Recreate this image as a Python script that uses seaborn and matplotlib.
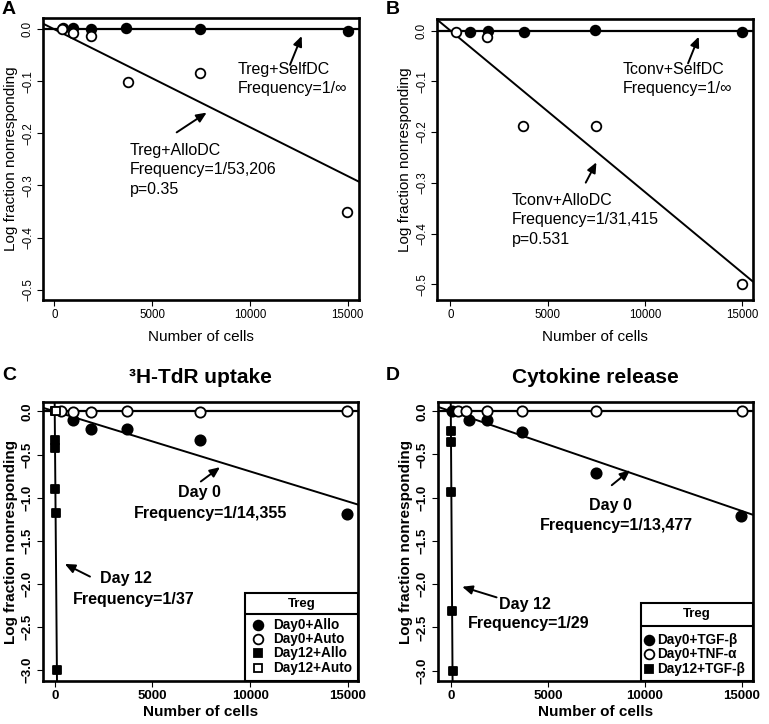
import numpy as np
import pandas as pd
import matplotlib
matplotlib.use("Agg")
import matplotlib.pyplot as plt
from matplotlib.patches import Rectangle
import seaborn as sns

# ---------------- data ----------------
# Panel A
A_self_x = [430, 970, 1900, 3670, 7450, 15000]
A_self_y = [0.002, 0.002, 0.0, 0.003, 0.0, -0.004]
A_allo_x = [375, 970, 1900, 3750, 7450, 14950]
A_allo_y = [0.0, -0.008, -0.013, -0.1005, -0.083, -0.351]
A_allo_freq = 53206

# Panel B
B_self_x = [990, 1930, 3770, 7450, 15000]
B_self_y = [-0.002, 0.0, -0.003, 0.001, -0.003]
B_allo_x = [280, 1900, 3730, 7470, 14980]
B_allo_y = [-0.003, -0.012, -0.188, -0.188, -0.5]
B_allo_freq = 31415

# Panel C
C_d0allo_x = [940, 1880, 3720, 7430, 14950]
C_d0allo_y = [-0.097, -0.2, -0.2, -0.33, -1.19]
C_d0auto_x = [340, 940, 1880, 3720, 7430, 14950]
C_d0auto_y = [0.0, -0.008, -0.01, 0.005, -0.005, 0.0]
C_d12allo_x = [12, 15, 33, 44, 110]
C_d12allo_y = [-0.33, -0.42, -0.9, -1.18, -3.0]
C_d12auto_x = [10, 20, 40]
C_d12auto_y = [0.0, 0.0, 0.0]
C_d0_freq = 14355
C_d12_freq = 37

# Panel D
D_d0tgf_x = [50, 929, 1875, 3647, 7466, 14966]
D_d0tgf_y = [0.0, -0.104, -0.104, -0.239, -0.712, -1.213]
D_d0tnf_x = [378, 808, 1875, 3647, 7466, 15000]
D_d0tnf_y = [0.0, 0.0, 0.0, 0.0, 0.0, 0.0]
D_d12tgf_x = [7, 10, 27, 67, 87]
D_d12tgf_y = [-0.231, -0.355, -0.932, -2.307, -3.0]
D_d0_line = 13000      # slope of drawn Day 0 fit
D_d12_freq = 29

x_ticks = [0, 5000, 10000, 15000]
x_ticklabels = ["0", "5000", "10000", "15000"]
yticks_AB = [0.0, -0.1, -0.2, -0.3, -0.4, -0.5]
yticks_CD = [0.0, -0.5, -1.0, -1.5, -2.0, -2.5, -3.0]

# ---------------- style ----------------
sns.set_theme(style="ticks")
plt.rcParams['font.family'] = ['Liberation Sans', 'DejaVu Sans']
plt.rcParams['axes.unicode_minus'] = True
for k in ["text.color", "axes.labelcolor", "xtick.color", "ytick.color", "axes.edgecolor"]:
    plt.rcParams[k] = "black"

W, H = 769, 724
fig = plt.figure(figsize=(W / 100, H / 100), dpi=100)
fig.patch.set_facecolor("white")


def add_ax(l, r, t, b):
    return fig.add_axes([l / W, 1 - b / H, (r - l) / W, (b - t) / H])


def style(ax, xlim, ylim, yticks, bold, xpad, tfs):
    w = "bold" if bold else "normal"
    ax.set_facecolor("white")
    ax.set_xlim(xlim)
    ax.set_ylim(ylim)
    ax.set_xticks(x_ticks)
    ax.set_xticklabels(x_ticklabels, fontsize=tfs, fontweight=w, color="black")
    ax.set_yticks(yticks)
    ax.set_yticklabels([f"{v:.1f}".replace("-", "\u2212") if v != 0 else "0.0" for v in yticks],
                       fontsize=tfs, fontweight=w, rotation=90, va="center", color="black")
    for s in ax.spines.values():
        s.set_visible(True)
        s.set_linewidth(1.9)
        s.set_color("black")
    ax.tick_params(length=4.5, width=0.8, color="black", direction="out", pad=2)
    ax.set_xlabel("Number of cells", fontsize=11, fontweight=w, labelpad=xpad, color="black")
    ax.set_ylabel("Log fraction nonresponding", fontsize=11, fontweight=w, labelpad=3, color="black")
    ax.grid(False)


def pts(ax, x, y, marker, filled, size):
    df = pd.DataFrame({"x": x, "y": y})
    sns.scatterplot(data=df, x="x", y="y", ax=ax, marker=marker, s=size,
                    color="black" if filled else "white", edgecolor="black",
                    linewidth=1.3, zorder=4, legend=False)


def arrow(ax, tail, head, lw=1.4):
    ax.annotate("", xy=head, xytext=tail,
                arrowprops=dict(arrowstyle="-|>,head_length=0.5,head_width=0.22",
                                color="black", lw=lw, shrinkA=0, shrinkB=0))


# ---------------- Panel A ----------------
axA = add_ax(43, 359, 18, 300)
axA.axhline(0, color="black", lw=1.6, zorder=2)
axA.axline((0, 0), slope=-1 / A_allo_freq, color="black", lw=1.4, zorder=2)
pts(axA, A_self_x, A_self_y, "o", True, 48)
pts(axA, A_allo_x, A_allo_y, "o", False, 48)
style(axA, (-580, 15580), (-0.52, 0.0217), yticks_AB, False, 6.5, 8.3)
arrow(axA, (12050, -0.0685), (12650, -0.0128))
axA.text(9375, -0.0768, "Treg+SelfDC", fontsize=11.5, va="center", ha="left")
axA.text(9375, -0.113, "Frequency=1/\u221e", fontsize=11.5, va="center", ha="left")
arrow(axA, (6256, -0.198), (7790, -0.160))
axA.text(3869, -0.233, "Treg+AlloDC", fontsize=11.5, va="center", ha="left")
axA.text(3869, -0.270, "Frequency=1/53,206", fontsize=11.5, va="center", ha="left")
axA.text(3869, -0.307, "p=0.35", fontsize=11.5, va="center", ha="left")

# ---------------- Panel B ----------------
axB = add_ax(437, 753, 19, 300)
axB.axhline(0, color="black", lw=1.6, zorder=2)
axB.axline((0, 0), slope=-1 / B_allo_freq, color="black", lw=1.4, zorder=2)
pts(axB, B_self_x, B_self_y, "o", True, 48)
pts(axB, B_allo_x, B_allo_y, "o", False, 48)
style(axB, (-690, 15545), (-0.531, 0.023), yticks_AB, False, 6.5, 8.3)
arrow(axB, (12209, -0.0644), (12757, -0.0118))
axB.text(8836, -0.0756, "Tconv+SelfDC", fontsize=11.5, va="center", ha="left")
axB.text(8836, -0.1137, "Frequency=1/\u221e", fontsize=11.5, va="center", ha="left")
arrow(axB, (6952, -0.2996), (7500, -0.2595))
axB.text(3134, -0.334, "Tconv+AlloDC", fontsize=11.5, va="center", ha="left")
axB.text(3134, -0.372, "Frequency=1/31,415", fontsize=11.5, va="center", ha="left")
axB.text(3134, -0.411, "p=0.531", fontsize=11.5, va="center", ha="left")

# ---------------- Panel C ----------------
axC = add_ax(43, 358, 402, 681)
axC.axhline(0, color="black", lw=1.6, zorder=2)
axC.axline((0, 0), slope=-1 / C_d0_freq, color="black", lw=1.4, zorder=2)
axC.axline((0, 0), slope=-1 / C_d12_freq, color="black", lw=1.4, zorder=2)
pts(axC, C_d0allo_x, C_d0allo_y, "o", True, 55)
pts(axC, C_d0auto_x, C_d0auto_y, "o", False, 55)
pts(axC, C_d12allo_x, C_d12allo_y, "s", True, 30)
pts(axC, C_d12auto_x, C_d12auto_y, "s", False, 30)
style(axC, (-600, 15515), (-3.127, 0.109), yticks_CD, True, 2, 9.5)
arrow(axC, (7474, -0.813), (8454, -0.647))
axC.text(7388, -0.941, "Day 0", fontsize=11.5, fontweight="bold", ha="center", va="center")
axC.text(7955, -1.189, "Frequency=1/14,355", fontsize=11.5, fontweight="bold", ha="center", va="center")
arrow(axC, (1804, -1.916), (515, -1.769))
axC.text(3625, -1.936, "Day 12", fontsize=11.5, fontweight="bold", ha="center", va="center")
axC.text(4038, -2.187, "Frequency=1/37", fontsize=11.5, fontweight="bold", ha="center", va="center")
axC.set_title("\u00b3H-TdR uptake", fontsize=15, fontweight="bold", pad=14)


def legend_box(ax, left, sep, top, title, title_y, labels, markers, fills, rows, mx, tx):
    tr = ax.transAxes
    ax.add_patch(Rectangle((left, 0.0), 1 - left, top, transform=tr, facecolor="white",
                           edgecolor="black", lw=1.5, zorder=6, clip_on=False))
    ax.plot([left, 1], [sep, sep], transform=tr, color="black", lw=1.5, zorder=7)
    ax.text((left + 1) / 2, title_y, title, transform=tr, ha="center", va="center",
            fontsize=9.5, fontweight="bold", zorder=8)
    for lab, m, f, ry in zip(labels, markers, fills, rows):
        ax.plot([mx], [ry], transform=tr, marker=m, ms=7 if m == "o" else 6,
                mfc="black" if f else "white", mec="black", mew=1.3, zorder=8, clip_on=False)
        ax.text(tx, ry, lab, transform=tr, ha="left", va="center", fontsize=9.8,
                fontweight="bold", zorder=8)


legend_box(axC, 0.6415, 0.2393, 0.3147, "Treg", 0.2770,
           ["Day0+Allo", "Day0+Auto", "Day12+Allo", "Day12+Auto"],
           ["o", "o", "s", "s"], [True, False, True, False],
           [0.2009, 0.1507, 0.0994, 0.0456], 0.6838, 0.7315)

# ---------------- Panel D ----------------
axD = add_ax(438, 753, 402, 681)
axD.axhline(0, color="black", lw=1.6, zorder=2)
axD.axline((0, 0), slope=-1 / D_d0_line, color="black", lw=1.4, zorder=2)
axD.axline((0, 0), slope=-1 / D_d12_freq, color="black", lw=1.4, zorder=2)
pts(axD, D_d0tgf_x, D_d0tgf_y, "o", True, 55)
pts(axD, D_d0tnf_x, D_d0tnf_y, "o", False, 55)
pts(axD, D_d12tgf_x, D_d12tgf_y, "s", True, 30)
style(axD, (-660, 15566), (-3.119, 0.107), yticks_CD, True, 2, 9.5)
arrow(axD, (8291, -0.855), (9237, -0.682))
axD.text(8205, -1.086, "Day 0", fontsize=11.5, fontweight="bold", ha="center", va="center")
axD.text(8549, -1.317, "Frequency=1/13,477", fontsize=11.5, fontweight="bold", ha="center", va="center")
arrow(axD, (2357, -2.152), (585, -2.029))
axD.text(3819, -2.233, "Day 12", fontsize=11.5, fontweight="bold", ha="center", va="center")
axD.text(3991, -2.453, "Frequency=1/29", fontsize=11.5, fontweight="bold", ha="center", va="center")
axD.set_title("Cytokine release", fontsize=15, fontweight="bold", pad=14)

legend_box(axD, 0.6447, 0.1969, 0.2782, "Treg", 0.2399,
           ["Day0+TGF-\u03b2", "Day0+TNF-\u03b1", "Day12+TGF-\u03b2"],
           ["o", "o", "s"], [True, False, True],
           [0.1468, 0.0956, 0.0429], 0.6702, 0.6947)

# panel letters
for lab, x, y in [("A", 9, 10), ("B", 393, 9), ("C", 9, 376), ("D", 393, 375)]:
    fig.text(x / W, 1 - y / H, lab, fontsize=14, fontweight="bold", ha="center", va="center")

fig.savefig("out.png", dpi=100, facecolor="white")
